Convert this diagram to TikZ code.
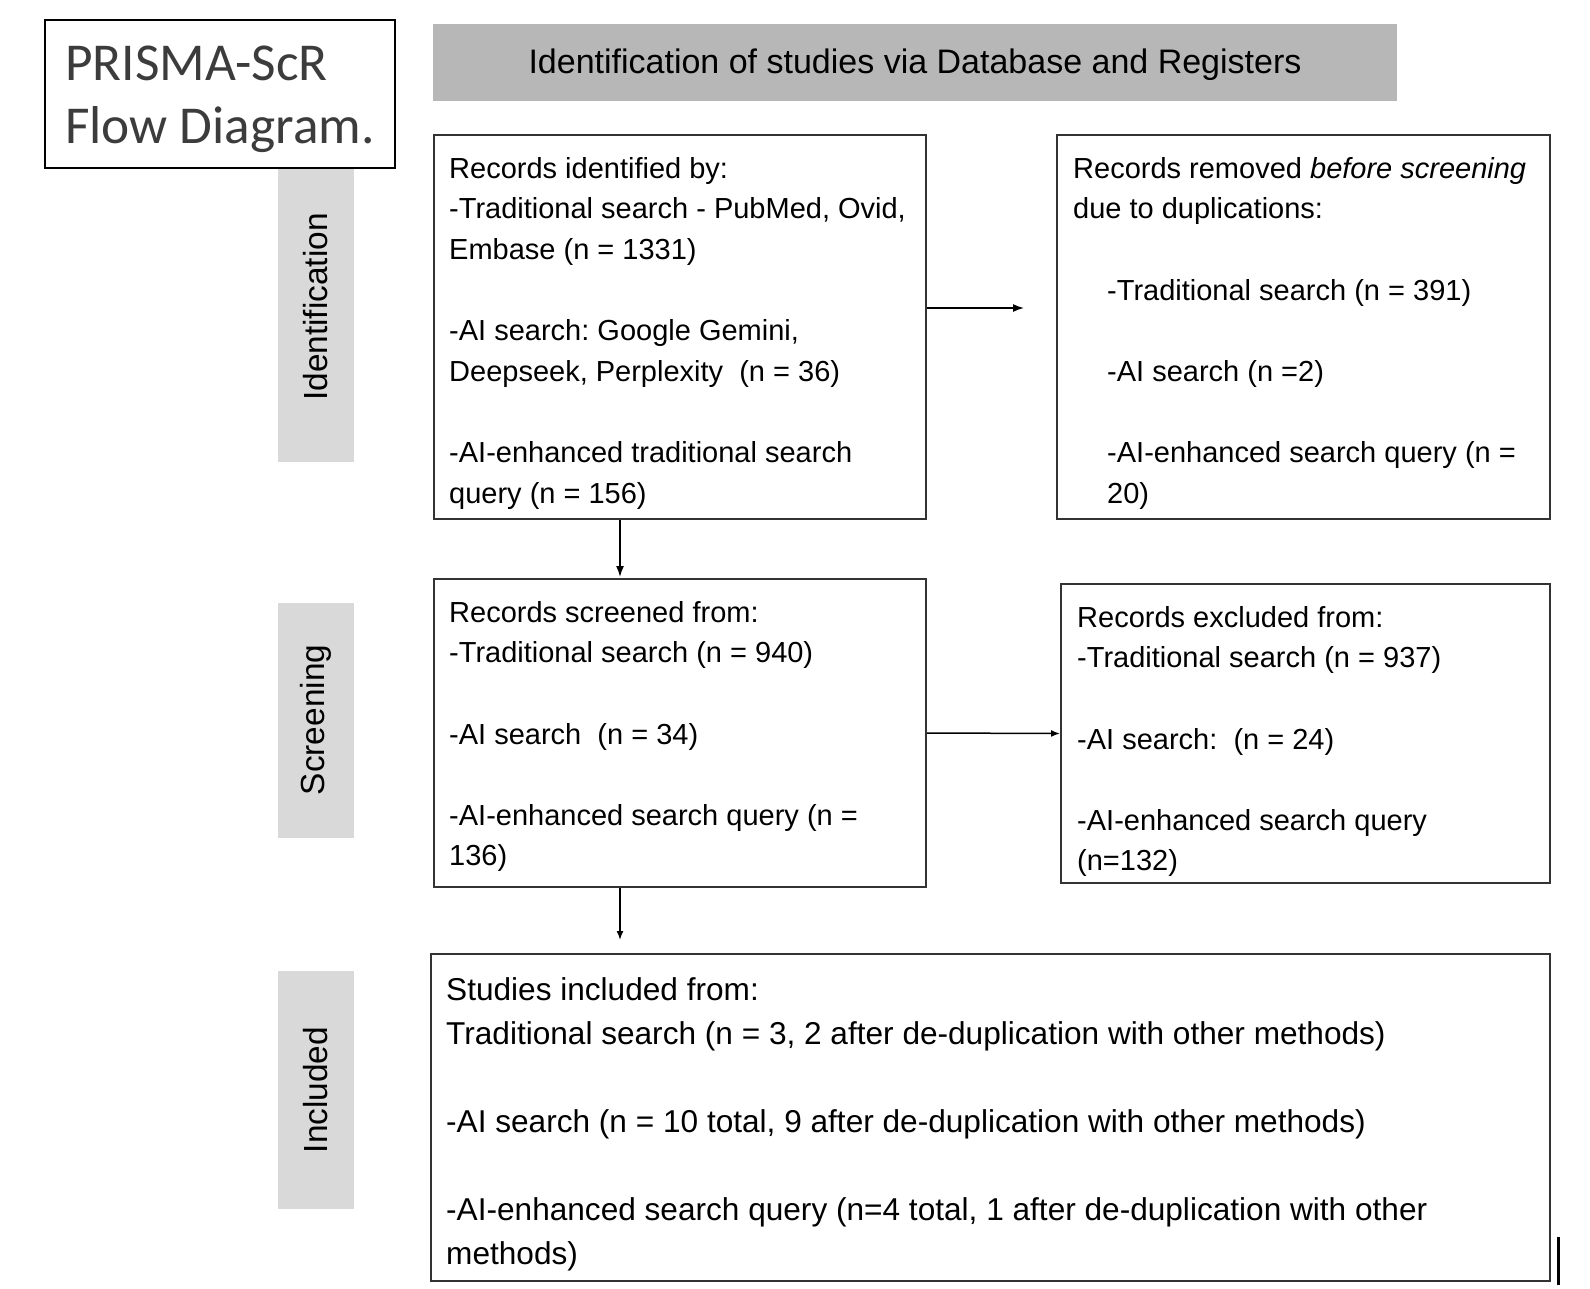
\documentclass[tikz,border=0pt]{standalone}
\usepackage{fontspec}
\setmainfont{Liberation Sans}
\newfontfamily\titlefont{Carlito}
\usetikzlibrary{arrows.meta}
\frenchspacing
\definecolor{headgray}{HTML}{B7B7B7}
\definecolor{sidegray}{HTML}{D9D9D9}
\definecolor{framegray}{HTML}{333333}
\definecolor{titletext}{HTML}{3C3C3C}
\begin{document}
\begin{tikzpicture}[x=1pt,y=-1pt,
  frame/.style={draw=framegray, line width=2pt, rectangle, inner sep=0pt, anchor=north west},
  sidebar/.style={fill=sidegray, draw=none, rectangle, inner sep=0pt, anchor=north west},
  body/.style={anchor=north west, inner sep=0pt, align=left, font=\frenchspacing\fontsize{29}{40.6}\selectfont},
  bigbody/.style={anchor=north west, inner sep=0pt, align=left, font=\frenchspacing\fontsize{31.6}{44}\selectfont},
  lab/.style={rotate=90, inner sep=0pt, font=\fontsize{33.4}{40}\selectfont},
  flow/.style={draw=black, line width=1.5pt, -{Latex[length=11pt,width=8pt]}}
]
\useasboundingbox (0,0) rectangle (1590,1288);
\fill[white] (0,0) rectangle (1590,1288);

% side bars
\node[sidebar, minimum width=76pt, minimum height=312pt] (idbar) at (278,150) {};
\node[sidebar, minimum width=76pt, minimum height=235pt] (scbar) at (278,603) {};
\node[sidebar, minimum width=76pt, minimum height=238pt] (inbar) at (278,971) {};
\node[lab] (idlab) at (316,307) {Identification};
\node[lab] (sclab) at (316,720) {Screening};
\node[lab] (inlab) at (316,1090) {Included};

% title
\node[frame, draw=black, fill=white, minimum width=350pt, minimum height=148pt] (title) at (44,19) {};
\node[anchor=north west, inner sep=0pt, align=left, text=titletext,
      font=\titlefont\fontsize{53.3}{63}\selectfont] (titletxt) at (65,40)
      {\rule{0pt}{40pt}PRISMA-ScR\\Flow Diagram.};

% header
\node[sidebar, fill=headgray, minimum width=964pt, minimum height=77pt] (head) at (433,24) {};
\node[anchor=base, inner sep=0pt, font=\fontsize{34}{40}\selectfont] (headtxt) at (915,73)
      {Identification of studies via Database and Registers};

% boxes
\node[frame, minimum width=492pt, minimum height=384pt] (b1) at (433,134) {};
\node[frame, minimum width=493pt, minimum height=384pt] (b2) at (1056,134) {};
\node[frame, minimum width=492pt, minimum height=308pt] (b3) at (433,578) {};
\node[frame, minimum width=489pt, minimum height=299pt] (b4) at (1060,583) {};
\node[frame, minimum width=1119pt, minimum height=327pt] (b5) at (430,953) {};

\node[body] (t1) at (449,154) {\rule{0pt}{24pt}Records identified by:\\
-Traditional search - PubMed, Ovid,\\
Embase (n = 1331)\\ \mbox{}\\
-AI search: Google Gemini,\\
Deepseek, Perplexity\ \ (n = 36)\\ \mbox{}\\
-AI-enhanced traditional search\\
query (n = 156)};

\node[body] (t2) at (1073,154) {\rule{0pt}{24pt}Records removed \textit{before screening}\\
due to duplications:\\ \mbox{}\\
\hspace*{34pt}-Traditional search (n = 391)\\ \mbox{}\\
\hspace*{34pt}-AI search (n =2)\\ \mbox{}\\
\hspace*{34pt}-AI-enhanced search query (n =\\
\hspace*{34pt}20)};

\node[body] (t3) at (449,598) {\rule{0pt}{24pt}Records screened from:\\
-Traditional search (n = 940)\\ \mbox{}\\
-AI search\ \ (n = 34)\\ \mbox{}\\
-AI-enhanced search query (n =\\
136)};

\node[body] (t4) at (1077,603) {\rule{0pt}{24pt}Records excluded from:\\
-Traditional search (n = 937)\\ \mbox{}\\
-AI search:\ \ (n = 24)\\ \mbox{}\\
-AI-enhanced search query\\
(n=132)};

\node[bigbody] (t5) at (446,974) {\rule{0pt}{26pt}Studies included from:\\
Traditional search (n = 3, 2 after de-duplication with other methods)\\ \mbox{}\\
-AI search (n = 10 total, 9 after de-duplication with other methods)\\ \mbox{}\\
-AI-enhanced search query (n=4 total, 1 after de-duplication with other\\
methods)};

% connectors
\coordinate (e12) at (1024,308);
\coordinate (e13) at (620,577);
\coordinate (e35) at (620,940);
\draw[flow] (b1.east |- e12) -- (e12);
\draw[flow] (b1.south -| e13) -- (e13);
\draw[flow, -{Latex[length=9pt,width=7pt]}] (b3.east) -- (b4.west);
\draw[flow, -{Latex[length=9pt,width=7pt]}] (b3.south -| e35) -- (e35);

% stray mark
\draw[line width=3pt] (1558,1237) -- (1558,1285);
\end{tikzpicture}
\end{document}
